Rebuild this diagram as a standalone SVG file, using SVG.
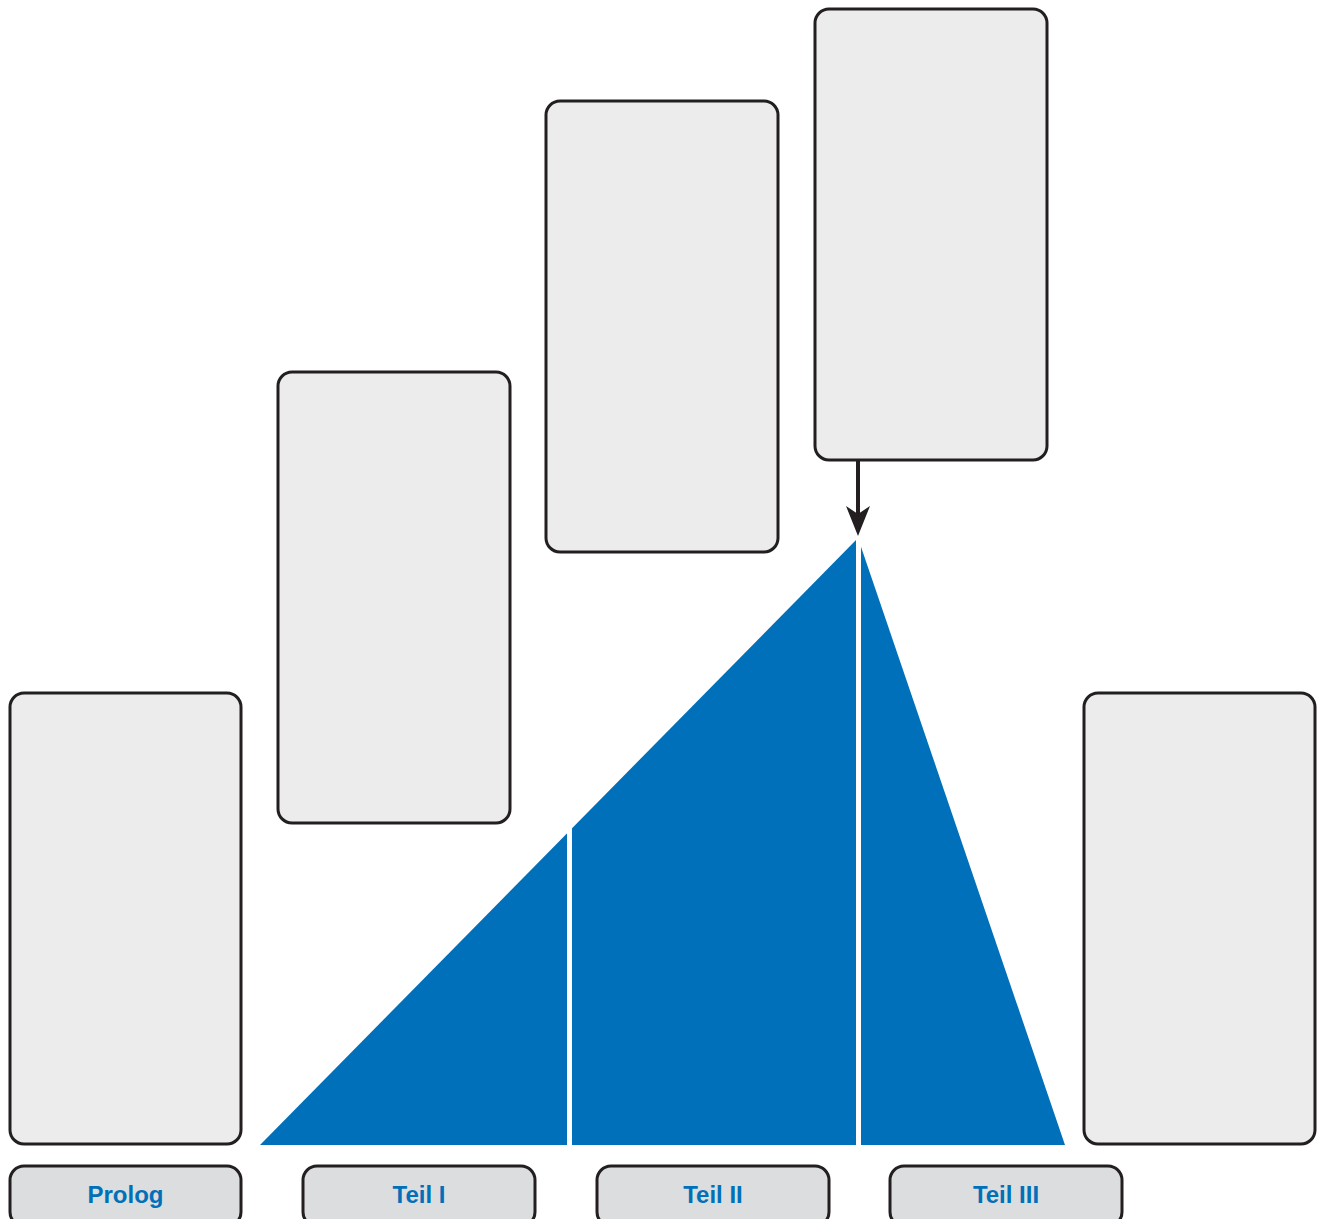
<svg xmlns="http://www.w3.org/2000/svg" width="1322" height="1219" viewBox="0 0 1322 1219">
<defs>
<style>
.box{fill:#ececec;stroke:#231f20;stroke-width:3}
.lbl{fill:#dcdddf;stroke:#231f20;stroke-width:3}
.txt{font-family:"Liberation Sans",Arial,sans-serif;font-weight:bold;font-size:24px;fill:#0070b8;text-anchor:middle}
.conn{stroke:#231f20;stroke-width:4;fill:none}
</style>
<marker id="arr" markerUnits="userSpaceOnUse" markerWidth="30" markerHeight="24" refX="14" refY="12" orient="auto" viewBox="0 0 30 24">
<path d="M0,0 L30,12 L0,24 L8,12 Z" fill="#231f20"/>
</marker>
</defs>
<rect width="1322" height="1219" fill="#ffffff"/>
<g id="shape">
<polygon points="260,1145 858,538 1065,1145" fill="#0070ba"/>
<line x1="569.5" y1="780" x2="569.5" y2="1150" stroke="#ffffff" stroke-width="5"/>
<line x1="858.5" y1="530" x2="858.5" y2="1150" stroke="#ffffff" stroke-width="5"/>
</g>
<g id="box1"><rect class="box" x="10" y="693" width="231" height="451" rx="14"/></g>
<g id="box2"><rect class="box" x="278" y="372" width="232" height="451" rx="14"/></g>
<g id="box3"><rect class="box" x="546" y="101" width="232" height="451" rx="14"/></g>
<g id="box4"><rect class="box" x="815" y="9" width="232" height="451" rx="14"/></g>
<g id="box5"><rect class="box" x="1084" y="693" width="231" height="451" rx="14"/></g>
<g id="prolog"><rect class="lbl" x="10" y="1166" width="231" height="60" rx="14"/><text class="txt" x="125.5" y="1203">Prolog</text></g>
<g id="teil1"><rect class="lbl" x="303" y="1166" width="232" height="60" rx="14"/><text class="txt" x="419" y="1203">Teil I</text></g>
<g id="teil2"><rect class="lbl" x="597" y="1166" width="232" height="60" rx="14"/><text class="txt" x="713" y="1203">Teil II</text></g>
<g id="teil3"><rect class="lbl" x="890" y="1166" width="232" height="60" rx="14"/><text class="txt" x="1006" y="1203">Teil III</text></g>
<g id="connectors">
<line class="conn" x1="858" y1="461" x2="858" y2="520" marker-end="url(#arr)"/>
</g>
</svg>
